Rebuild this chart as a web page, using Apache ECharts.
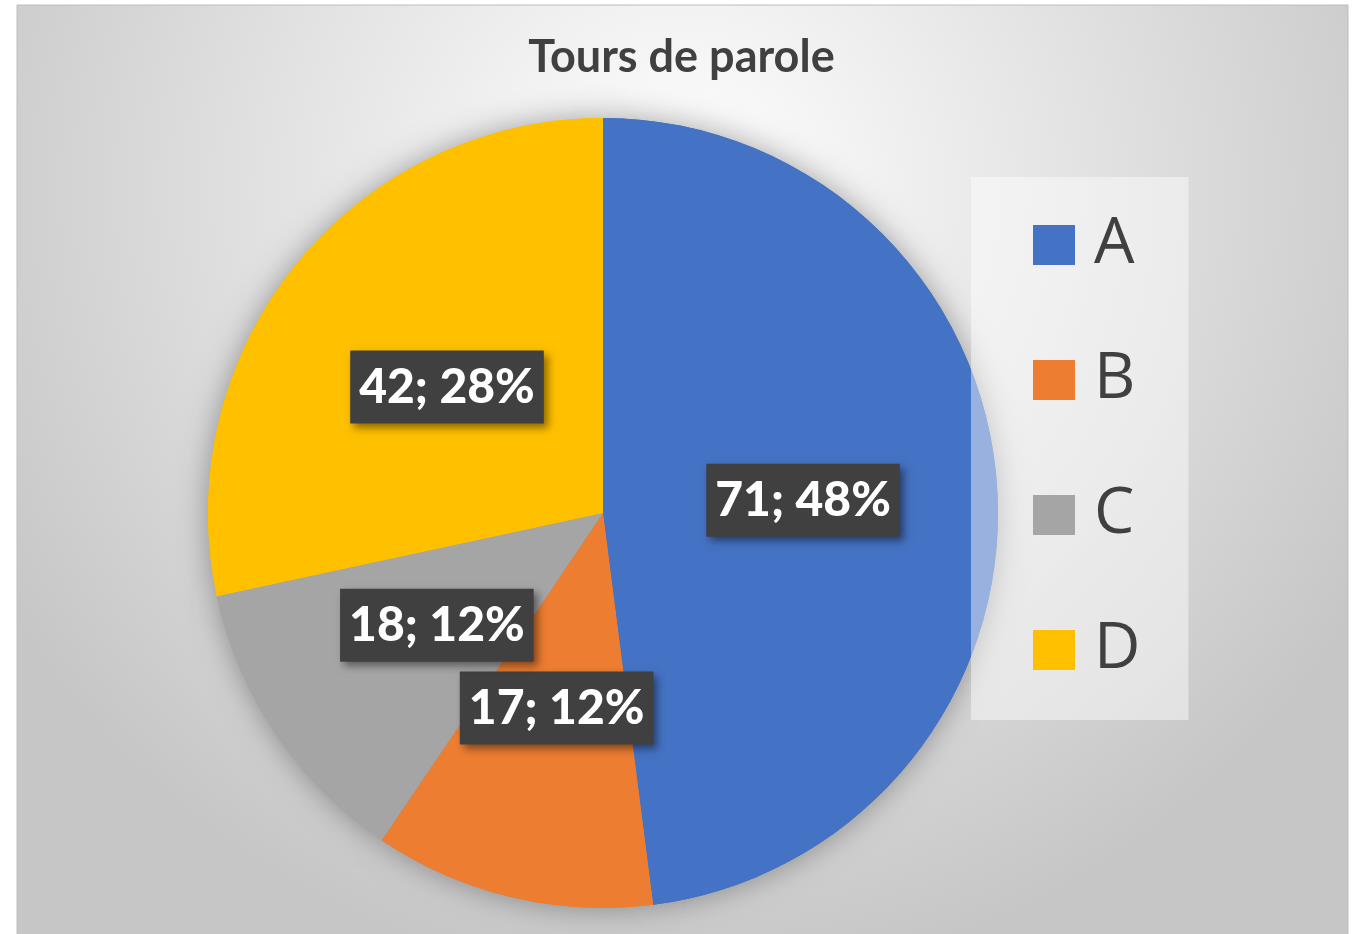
<!DOCTYPE html>
<html>
<head>
<meta charset="utf-8">
<script src="https://cdn.jsdelivr.net/npm/echarts@6/dist/echarts.min.js"></script>
<style>
  html, body { margin: 0; padding: 0; background: #fff; }
  #chart { width: 1363px; height: 934px; }
</style>
</head>
<body>
<div id="chart"></div>
<script>
const categories = ['A', 'B', 'C', 'D'];
const values = [71, 17, 18, 42];
const percents = [48, 12, 12, 28];
const colors = ['#4472C4', '#ED7D31', '#A5A5A5', '#FFC000'];

const pieData = categories.map((name, i) => ({
    name: name,
    value: values[i],
    itemStyle: { color: colors[i] }
}));

const chart = echarts.init(document.getElementById('chart'));

chart.setOption({
    animation: false,
    backgroundColor: '#ffffff',
    graphic: [{
        type: 'rect',
        z: -10,
        shape: { x: 17, y: 5, width: 1331, height: 935 },
        style: {
            fill: {
                type: 'radial', x: 0.5, y: 0.2, r: 0.85,
                colorStops: [
                    { offset: 0, color: '#ffffff' },
                    { offset: 0.55, color: '#e0e0e0' },
                    { offset: 1, color: '#c6c6c6' }
                ]
            },
            stroke: '#bdbdbd',
            lineWidth: 1
        },
        silent: true
    }],
    title: {
        text: 'Tours de parole',
        left: 'center',
        top: 30,
        textStyle: {
            fontFamily: 'Lato',
            fontWeight: 'bold',
            fontSize: 45,
            color: '#404040'
        }
    },
    legend: {
        orient: 'vertical',
        left: 971,
        top: 177,
        data: categories,
        icon: 'rect',
        itemWidth: 42,
        itemHeight: 40,
        itemGap: 71,
        padding: [36, 48, 38, 62],
        backgroundColor: 'rgba(255,255,255,0.45)',
        selectedMode: false,
        textStyle: {
            fontFamily: 'Open Sans',
            fontSize: 64,
            lineHeight: 64,
            color: '#404040',
            padding: [0, 0, 0, 14]
        }
    },
    series: [{
        // shadow layer under the pie
        type: 'pie',
        z: 1,
        silent: true,
        center: [603, 513],
        radius: 395,
        startAngle: 90,
        data: pieData,
        label: { show: false },
        labelLine: { show: false },
        itemStyle: {
            shadowBlur: 30,
            shadowColor: 'rgba(0,0,0,0.35)'
        },
        emphasis: { disabled: true }
    }, {
        type: 'pie',
        z: 2,
        center: [603, 513],
        radius: 395,
        startAngle: 90,
        data: pieData,
        emphasis: { disabled: true },
        label: {
            show: true,
            position: 'inside',
            formatter: p => values[p.dataIndex] + '; ' + percents[p.dataIndex] + '%',
            fontFamily: 'Lato',
            fontWeight: 900,
            fontSize: 48,
            lineHeight: 56,
            color: '#ffffff',
            backgroundColor: '#404040',
            padding: [9, 9, 8, 9],
            shadowBlur: 8,
            shadowOffsetX: 4,
            shadowOffsetY: 4,
            shadowColor: 'rgba(0,0,0,0.45)'
        },
        labelLine: { show: false }
    }]
});
</script>
</body>
</html>
